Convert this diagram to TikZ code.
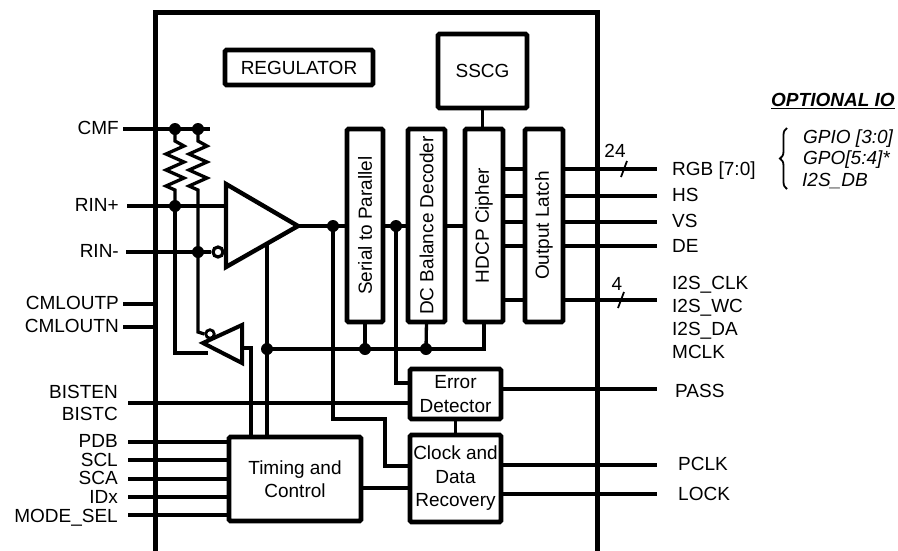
\documentclass[tikz,border=0pt]{standalone}
\usepackage{fontspec}
\setmainfont{Liberation Sans}
\usetikzlibrary{decorations.pathreplacing}
\newcommand{\labfont}{\fontsize{19}{23.5}\selectfont}
\begin{document}
\begin{tikzpicture}[x=1pt,y=-1pt,
  wire/.style={line width=3.3pt},
  box/.style={draw, line width=4.8pt, rounded corners=1.5pt, inner sep=0pt, outer sep=0pt, align=center, font=\labfont},
  dot/.style={circle, fill, inner sep=0pt, minimum size=12pt},
  lab/.style={inner sep=0pt, font=\labfont, text height=13.6pt, text depth=0pt},
  vlab/.style={inner sep=0pt, font=\labfont, rotate=90},
  tri/.style={line width=4.4pt, line join=miter},
]
\useasboundingbox (0,0) rectangle (898,550);

% chip outline
\coordinate (chipBL) at (155,552);
\coordinate (chipTL) at (155,12);
\coordinate (chipTR) at (597,12);
\coordinate (chipBR) at (597,552);
\draw[line width=5pt, line join=miter] (chipBL) -- (chipTL) -- (chipTR) -- (chipBR);

% blocks
\node[box, minimum width=148pt, minimum height=35pt] (reg) at (299,67.5) {REGULATOR};
\node[box, minimum width=89pt, minimum height=74pt] (sscg) at (482.5,71) {SSCG};
\node[box, minimum width=36pt, minimum height=193pt] (s2p) at (365,225.5) {};
\node[box, minimum width=37pt, minimum height=193pt] (dcbd) at (426.5,225.5) {};
\node[box, minimum width=38pt, minimum height=193pt] (hdcp) at (484,225.5) {};
\node[box, minimum width=38pt, minimum height=193pt] (ol) at (544,225.5) {};
\node[vlab] (s2pt) at (s2p) {Serial to Parallel};
\node[vlab] (dcbdt) at (dcbd) {DC Balance Decoder};
\node[vlab] (hdcpt) at (hdcp) {HDCP Cipher};
\node[vlab] (olt) at (ol) {Output Latch};
\node[box, minimum width=91pt, minimum height=50pt] (ed) at (455.5,394) {Error\\Detector};
\node[box, minimum width=91pt, minimum height=87pt] (cdr) at (455.5,478.5) {Clock and\\Data\\Recovery};
\node[box, minimum width=132pt, minimum height=84pt] (tc) at (295,479) {Timing and\\Control};

% amplifier
\coordinate (ampT) at (226,184);
\coordinate (ampB) at (226,267);
\coordinate (ampout) at (298,226);
\coordinate (ampP) at (226,206);
\draw[tri] (ampT) -- (ampout) -- (ampB) -- cycle;
\node[circle, draw, line width=3.2pt, minimum size=10pt, inner sep=0pt] (bub) at (218,252) {};

% feedback driver (points left)
\coordinate (bufTip) at (203,343);
\coordinate (bufT) at (242,325);
\coordinate (bufB) at (242,363);
\coordinate (bufin) at (242,348);
\draw[line width=4pt, line join=miter] (bufTip) -- (bufT) -- (bufB) -- cycle;
\node[circle, draw, line width=2.8pt, minimum size=8.5pt, inner sep=0pt, fill=white] (bub2) at (210,334) {};

% junction coordinates
\coordinate (r1t) at (175,129);
\coordinate (r2t) at (198,129);
\coordinate (r1b) at (175,206);
\coordinate (r2b) at (198,252);
\coordinate (n1) at (333,226);
\coordinate (n2) at (396,226);
\coordinate (en) at (267,244);
\coordinate (b0) at (267,349);
\coordinate (bs2p) at (365,349);
\coordinate (bdc) at (426,349);

% left inputs
\coordinate (cmfL) at (123,129);
\coordinate (cmfR) at (210,129);
\draw[wire] (cmfL) -- (cmfR);
\coordinate (rinpL) at (127,206);
\draw[wire] (rinpL) -- (ampP);
\coordinate (rinnL) at (126,252);
\draw[wire] (rinnL) -- (bub.west);

% resistors
\draw[wire, line join=miter] (r1t) -- (175,141) -- (184,146) -- (166,154) -- (184,162) -- (166,170) -- (184,178) -- (166,186) -- (175,190) -- (r1b);
\draw[wire, line join=miter] (r2t) -- (198,141) -- (207,146) -- (189,154) -- (207,162) -- (189,170) -- (207,178) -- (189,186) -- (198,190) -- (r2b);

% feedback wires
\coordinate (fbN) at (198,332);
\coordinate (fbP) at (175,353);
\coordinate (fbPend) at (208,353);
\draw[wire] (r2b) -- (fbN) -- (bub2.west);
\draw[wire] (r1b) -- (fbP) -- (fbPend);

\coordinate (cmlpL) at (123,304);
\coordinate (cmlpR) at (155,304);
\coordinate (cmlnL) at (123,327);
\coordinate (cmlnR) at (155,327);
\draw[wire] (cmlpL) -- (cmlpR);
\draw[wire] (cmlnL) -- (cmlnR);

% datapath
\draw[wire] (ampout) -- (n1) -- (n1 -| s2p.west);
\draw[wire] (n2 -| s2p.east) -- (n2) -- (n2 -| dcbd.west);
\draw[wire] (n2 -| dcbd.east) -- (n2 -| hdcp.west);
\draw[wire] (sscg.south) -- (sscg.south |- hdcp.north);

% HDCP -> Output latch -> outputs
\foreach \nm/\yy in {rgb/169,hs/196,vs/222,de/246,i2s/300}{
  \coordinate (\nm y) at (0,\yy);
  \coordinate (\nm out) at (657,\yy);
  \draw[wire] (hdcp.east |- \nm y) -- (ol.west |- \nm y);
  \draw[wire] (ol.east |- \nm y) -- (\nm out);
}
\draw[line width=1.8pt] (621,177) -- (627,161);
\draw[line width=1.8pt] (618,308) -- (624,292);
\node[lab] (n24) at (615,151) {24};
\node[lab] (n4) at (617,284) {4};

% bus
\draw[wire] (b0) -| (hdcp.south);
\draw[wire] (s2p.south) -- (bs2p);
\draw[wire] (dcbd.south) -- (bdc);
\draw[wire] (en) -- (tc.north -| en);
\coordinate (bufinR) at (251,348);
\draw[wire] (bufin) -- (bufinR) -- (tc.north -| bufinR);

% control wires
\coordinate (edIn1) at ([yshift=11pt]ed.west);
\coordinate (edBist) at ([yshift=-9pt]ed.west);
\draw[wire] (n2) |- (edIn1);
\coordinate (k1) at (333,419);
\coordinate (k2) at (385,419);
\coordinate (cdrIn1) at ([yshift=12.5pt]cdr.west);
\draw[wire] (n1) -- (k1) -- (k2) |- (cdrIn1);
\coordinate (tcOut) at ([yshift=-9pt]tc.east);
\draw[wire] (tcOut) -- (tcOut -| cdr.west);
\draw[wire] (ed.south) -- (cdr.north);

\coordinate (bistL) at (128,403);
\draw[wire] (bistL) -- (edBist);
\foreach \nm/\yy in {pdb/442,scl/460,sca/479,idx/497,mode/515}{
  \coordinate (\nm L) at (128,\yy);
  \draw[wire] (\nm L) -- (\nm L -| tc.west);
}

% right control outputs
\coordinate (passL) at ([yshift=5pt]ed.east);
\coordinate (passR) at (657,389);
\draw[wire] (passL) -- (passR);
\coordinate (pclkL) at ([yshift=13.5pt]cdr.east);
\coordinate (pclkR) at (657,465);
\draw[wire] (pclkL) -- (pclkR);
\coordinate (lockL) at ([yshift=-15.5pt]cdr.east);
\coordinate (lockR) at (657,494);
\draw[wire] (lockL) -- (lockR);

% dots
\foreach \p in {r1t,r2t,r1b,r2b,n1,n2,b0,bs2p,bdc}{\node[dot] at (\p) {};}

% left labels
\node[lab, anchor=east] (lcmf) at (119,128) {CMF};
\node[lab, anchor=east] (lrinp) at (119,205) {RIN+};
\node[lab, anchor=east] (lrinn) at (119,251) {RIN-};
\node[lab, anchor=east] (lcmlp) at (119,303) {CMLOUTP};
\node[lab, anchor=east] (lcmln) at (119,326) {CMLOUTN};
\node[lab, anchor=east] (lbisten) at (118,392) {BISTEN};
\node[lab, anchor=east] (lbistc) at (118,414) {BISTC};
\node[lab, anchor=east] (lpdb) at (118,441) {PDB};
\node[lab, anchor=east] (lscl) at (118,460) {SCL};
\node[lab, anchor=east] (lsca) at (118,478) {SCA};
\node[lab, anchor=east] (lidx) at (118,497) {IDx};
\node[lab, anchor=east] (lmode) at (118,516) {MODE\_SEL};

% right labels
\node[lab, anchor=west] (lrgb) at (672,169) {RGB [7:0]};
\node[lab, anchor=west] (lhs) at (672,195) {HS};
\node[lab, anchor=west] (lvs) at (672,221) {VS};
\node[lab, anchor=west] (lde) at (672,246) {DE};
\node[lab, anchor=west] (lclk) at (672,283) {I2S\_CLK};
\node[lab, anchor=west] (lwc) at (672,306) {I2S\_WC};
\node[lab, anchor=west] (lda) at (672,329) {I2S\_DA};
\node[lab, anchor=west] (lmclk) at (672,352) {MCLK};
\node[lab, anchor=west] (lpass) at (675,391) {PASS};
\node[lab, anchor=west] (lpclk) at (678,464) {PCLK};
\node[lab, anchor=west] (llock) at (678,494) {LOCK};

% optional IO
\node[lab, anchor=west, font=\labfont\bfseries\itshape] (opt) at (771,100) {\underline{OPTIONAL IO}};
\node[lab, anchor=west, font=\labfont\itshape] (gpio) at (803,137) {GPIO [3:0]};
\node[lab, anchor=west, font=\labfont\itshape] (gpo) at (803,158) {GPO[5:4]*};
\node[lab, anchor=west, font=\labfont\itshape] (i2sdb) at (802,180) {I2S\_DB};
\coordinate (brB) at (787,189);
\coordinate (brT) at (787,128);
\draw[line width=1.8pt, decorate, decoration={brace, amplitude=7pt}] (brB) -- (brT);
\end{tikzpicture}
\end{document}
